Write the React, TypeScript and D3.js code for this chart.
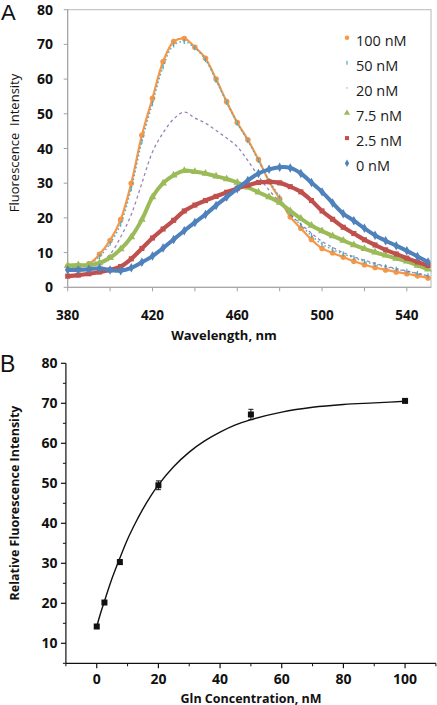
import React from "react";
import * as d3 from "d3";

// ---------- Panel A data (fluorescence spectra) ----------
const wavelengths = [380, 385, 390, 395, 400, 405, 410, 415, 420, 425, 430, 435, 440, 445, 450, 455, 460, 465, 470, 475, 480, 485, 490, 495, 500, 505, 510, 515, 520, 525, 530, 535, 540, 545, 550];
const nM100 = [6.0, 6.2, 6.8, 9.5, 13.5, 19.5, 30, 43.8, 54.5, 65, 70.8, 71.7, 69.2, 66, 60, 53.5, 47.5, 42.5, 36.8, 30.5, 25.5, 20.3, 17, 13.8, 11.2, 9.9, 8.7, 7.5, 6.5, 5.7, 5, 4.4, 3.9, 3.3, 2.7];
const nM50 = [5.6, 5.8, 6.4, 8.8, 12.6, 18.2, 28.5, 42, 53, 63.5, 69.8, 70.8, 69, 65.6, 59.6, 53.3, 47.3, 42.2, 36.6, 30.8, 26, 21.2, 17.9, 14.9, 12.4, 10.9, 9.6, 8.5, 7.4, 6.6, 5.9, 5.2, 4.6, 4, 3.3];
const nM20 = [5.8, 5.9, 6.2, 7, 9.5, 14.5, 21, 30, 39, 44.5, 48.5, 50.5, 48.8, 47.3, 45.2, 43, 40.5, 36.5, 32, 28, 24.5, 21, 18.2, 15.6, 13.2, 11.5, 10, 8.8, 7.8, 6.9, 6.1, 5.4, 4.7, 4, 3.3];
const nM7_5 = [6.3, 6.4, 6.4, 7, 8.5, 11, 14.5, 19.5, 26, 30, 32.3, 33.6, 33.3, 32.8, 32, 31.2, 30.2, 28.8, 27.4, 26, 24.4, 22, 19.8, 17.8, 16.2, 14.8, 13.5, 12.2, 11.1, 10.1, 9.2, 8.3, 7.5, 6.3, 5.2];
const nM2_5 = [3.2, 3.5, 3.9, 4.4, 5, 6, 8.2, 11.2, 14.2, 16.8, 19.3, 22, 23.7, 25, 26.2, 27.4, 28.5, 29.4, 30.2, 30.4, 30.1, 29, 27.5, 25, 22, 19.6, 17.3, 15.5, 13.7, 12.2, 10.8, 9.6, 8.4, 7.3, 6.3];
const nM0 = [5, 5, 5.2, 5.5, 5, 4.8, 5.6, 7.2, 9, 11.3, 13.8, 16.3, 18.7, 21, 23.6, 26, 28.4, 30.8, 32.8, 34, 34.6, 34.4, 32.8, 30.2, 27.5, 24.3, 21.2, 19.2, 17, 15, 13.4, 12, 10.5, 8.9, 7.3];
const seriesNames = ["100 nM", "50 nM", "20 nM", "7.5 nM", "2.5 nM", "0 nM"];

const aYTicks = [0, 10, 20, 30, 40, 50, 60, 70, 80];
const aXTicks = [380, 420, 460, 500, 540];
const aXMinorTicks = [380, 400, 420, 440, 460, 480, 500, 520, 540];

// ---------- Panel B data (titration) ----------
const glnConc = [0, 2.5, 7.5, 20, 50, 100];
const relIntensity = [14.2, 20.2, 30.3, 49.5, 67.2, 70.6];
const relError = [0.5, 0.5, 0.6, 1.1, 1.3, 0.4];
const fitConc = [0, 1, 2.5, 5, 7.5, 10, 12.5, 15, 17.5, 20, 25, 30, 35, 40, 45, 50, 60, 70, 80, 90, 100];
const fitIntensity = [14.2, 16.9, 20.5, 26.3, 31.3, 36.0, 40.0, 43.6, 46.8, 49.6, 54.2, 57.8, 60.6, 62.8, 64.6, 65.9, 67.8, 69.0, 69.7, 70.1, 70.5];

const bYTicks = [10, 20, 30, 40, 50, 60, 70, 80];
const bYMinorTicks = [5, 15, 25, 35, 45, 55, 65, 75];
const bXTicks = [0, 20, 40, 60, 80, 100];
const bXMinorTicks = [-10, 10, 30, 50, 70, 90, 110];

const FONT = "'Open Sans', 'DejaVu Sans', sans-serif";

type Style = { color: string; marker: string; lineW: number; dash?: string; opacity?: number };
const styles: Style[] = [
  { color: "#F79646", marker: "circle", lineW: 2.2 },
  { color: "#4BACC6", marker: "tick", lineW: 1.4, dash: "1.5 2.5" },
  { color: "#8064A2", marker: "none", lineW: 1.3, dash: "3 3", opacity: 0.8 },
  { color: "#9BBB59", marker: "triangle", lineW: 4 },
  { color: "#C0504D", marker: "square", lineW: 4.2 },
  { color: "#4F81BD", marker: "diamond", lineW: 4 },
];

function Marker({ kind, x, y, color, scale = 1 }: { kind: string; x: number; y: number; color: string; scale?: number }) {
  if (kind === "circle") return <circle cx={x} cy={y} r={2.8 * scale} fill={color} />;
  if (kind === "tick") return <line x1={x} x2={x} y1={y - 2.5 * scale} y2={y + 2.5 * scale} stroke={color} strokeWidth={1.2} />;
  if (kind === "dot") return <circle cx={x} cy={y} r={0.9 * scale} fill="#9a9a9a" />;
  const type = kind === "triangle" ? d3.symbolTriangle : kind === "square" ? d3.symbolSquare : d3.symbolDiamond;
  const p = d3.symbol().type(type).size(26 * scale * scale)();
  return <path d={p || ""} transform={`translate(${x},${y})`} fill={color} />;
}

export default function App() {
  const spectra = [nM100, nM50, nM20, nM7_5, nM2_5, nM0];

  // Panel A scales
  const xA = d3.scaleLinear().domain([380, 551.4]).range([67.7, 431]);
  const yA = d3.scaleLinear().domain([0, 80]).range([287.3, 9.7]);
  const lineA = d3
    .line<number>()
    .x((_, i) => xA(wavelengths[i]))
    .y((v) => yA(v))
    .curve(d3.curveCatmullRom);

  // Panel B scales
  const xB = d3.scaleLinear().domain([-10, 110]).range([65.9, 435.9]);
  const yB = d3.scaleLinear().domain([5, 80]).range([663.3, 363.3]);
  const fitLine = d3
    .line<number>()
    .x((_, i) => xB(fitConc[i]))
    .y((v) => yB(v))
    .curve(d3.curveMonotoneX);

  const axisGrey = "#a0a0a0";

  return (
    <svg width={437} height={705} style={{ position: "absolute", left: 0, top: 0, background: "#fff" }} fontFamily={FONT}>
      {/* ---------------- Panel A ---------------- */}
      <text x={1} y={20} fontSize={22} fontFamily="'Liberation Sans', Arial, sans-serif" fill="#111">A</text>
      <rect x={xA(380)} y={yA(80)} width={xA(551.4) - xA(380)} height={yA(0) - yA(80)} fill="none" stroke="#b8b8b8" strokeWidth={1} />
      <line x1={xA(380)} x2={xA(380)} y1={yA(0)} y2={yA(80)} stroke={axisGrey} />
      <line x1={xA(380)} x2={xA(551.4)} y1={yA(0)} y2={yA(0)} stroke={axisGrey} />
      {aYTicks.map((t) => (
        <g key={"ay" + t}>
          <line x1={xA(380) - 4} x2={xA(380)} y1={yA(t)} y2={yA(t)} stroke={axisGrey} />
          <text x={53} y={yA(t)} dy="0.36em" textAnchor="end" fontSize={14} fontWeight="bold" fill="#111">{t}</text>
        </g>
      ))}
      {aXMinorTicks.map((t) => (
        <line key={"axm" + t} x1={xA(t)} x2={xA(t)} y1={yA(0)} y2={yA(0) + 4} stroke={axisGrey} />
      ))}
      {aXTicks.map((t) => (
        <text key={"ax" + t} x={xA(t)} y={315.5} dy="0.36em" textAnchor="middle" fontSize={13.5} fontWeight="bold" fill="#111">{t}</text>
      ))}
      <text x={224} y={335} dy="0.36em" textAnchor="middle" fontSize={13} fontWeight="bold" fill="#111">Wavelength, nm</text>
      <text transform={`translate(14,143) rotate(-90)`} textAnchor="middle" dy="0.36em" fontSize={13} fill="#111" style={{ whiteSpace: "pre" }}>
        {"Fluorescence  Intensity"}
      </text>

      {spectra.map((data, si) => {
        const st = styles[si];
        return (
          <g key={"s" + si} opacity={st.opacity ?? 1}>
            <path d={lineA(data) || ""} fill="none" stroke={st.color} strokeWidth={st.lineW} strokeDasharray={st.dash} strokeLinejoin="round" />
            {st.marker !== "none" &&
              data.map((v, i) => <Marker key={i} kind={st.marker} x={xA(wavelengths[i])} y={yA(v)} color={st.color} />)}
          </g>
        );
      })}

      {/* Legend */}
      {seriesNames.map((name, i) => {
        const y = 40.7 + i * 25.1;
        const st = styles[i];
        const kind = st.marker === "none" ? "dot" : st.marker;
        return (
          <g key={"lg" + i}>
            <Marker kind={kind} x={347} y={y - 3} color={st.color} scale={0.8} />
            <text x={356} y={y} dy="0.36em" fontSize={14.5} fill="#1a1a1a">{name}</text>
          </g>
        );
      })}

      {/* ---------------- Panel B ---------------- */}
      <text x={0} y={372} fontSize={23} fontFamily="'Liberation Sans', Arial, sans-serif" fill="#111">B</text>
      <line x1={xB(-10)} x2={xB(-10)} y1={yB(5)} y2={yB(80)} stroke="#111" strokeWidth={1.2} />
      <line x1={xB(-10)} x2={xB(110)} y1={yB(5)} y2={yB(5)} stroke="#111" strokeWidth={1.2} />
      {bYTicks.map((t) => (
        <g key={"by" + t}>
          <line x1={xB(-10) - 5} x2={xB(-10)} y1={yB(t)} y2={yB(t)} stroke="#111" strokeWidth={1.2} />
          <text x={57.5} y={yB(t)} dy="0.36em" textAnchor="end" fontSize={14} fontWeight="bold" fill="#111">{t}</text>
        </g>
      ))}
      {bYMinorTicks.map((t) => (
        <line key={"bym" + t} x1={xB(-10) - 3} x2={xB(-10)} y1={yB(t)} y2={yB(t)} stroke="#111" strokeWidth={1} />
      ))}
      {bXTicks.map((t) => (
        <g key={"bx" + t}>
          <line x1={xB(t)} x2={xB(t)} y1={yB(5)} y2={yB(5) + 5} stroke="#111" strokeWidth={1.2} />
          <text x={xB(t)} y={679.3} dy="0.36em" textAnchor="middle" fontSize={14} fontWeight="bold" fill="#111">{t}</text>
        </g>
      ))}
      {bXMinorTicks.map((t) => (
        <line key={"bxm" + t} x1={xB(t)} x2={xB(t)} y1={yB(5)} y2={yB(5) + 3} stroke="#111" strokeWidth={1} />
      ))}
      <text x={251} y={698} dy="0.36em" textAnchor="middle" fontSize={12.5} fontWeight="bold" fill="#111">Gln Concentration, nM</text>
      <text transform={`translate(14,503) rotate(-90)`} textAnchor="middle" dy="0.36em" fontSize={12.5} fontWeight="bold" fill="#111">
        Relative Fluorescence Intensity
      </text>

      <path d={fitLine(fitIntensity) || ""} fill="none" stroke="#111" strokeWidth={1.4} />
      {glnConc.map((c, i) => {
        const x = xB(c);
        const y0 = yB(relIntensity[i] - relError[i]);
        const y1 = yB(relIntensity[i] + relError[i]);
        return (
          <g key={"bp" + i}>
            <line x1={x} x2={x} y1={y0} y2={y1} stroke="#111" strokeWidth={1} />
            <line x1={x - 2.5} x2={x + 2.5} y1={y0} y2={y0} stroke="#111" strokeWidth={1} />
            <line x1={x - 2.5} x2={x + 2.5} y1={y1} y2={y1} stroke="#111" strokeWidth={1} />
            <rect x={x - 3} y={yB(relIntensity[i]) - 3} width={6} height={6} fill="#111" />
          </g>
        );
      })}
    </svg>
  );
}
